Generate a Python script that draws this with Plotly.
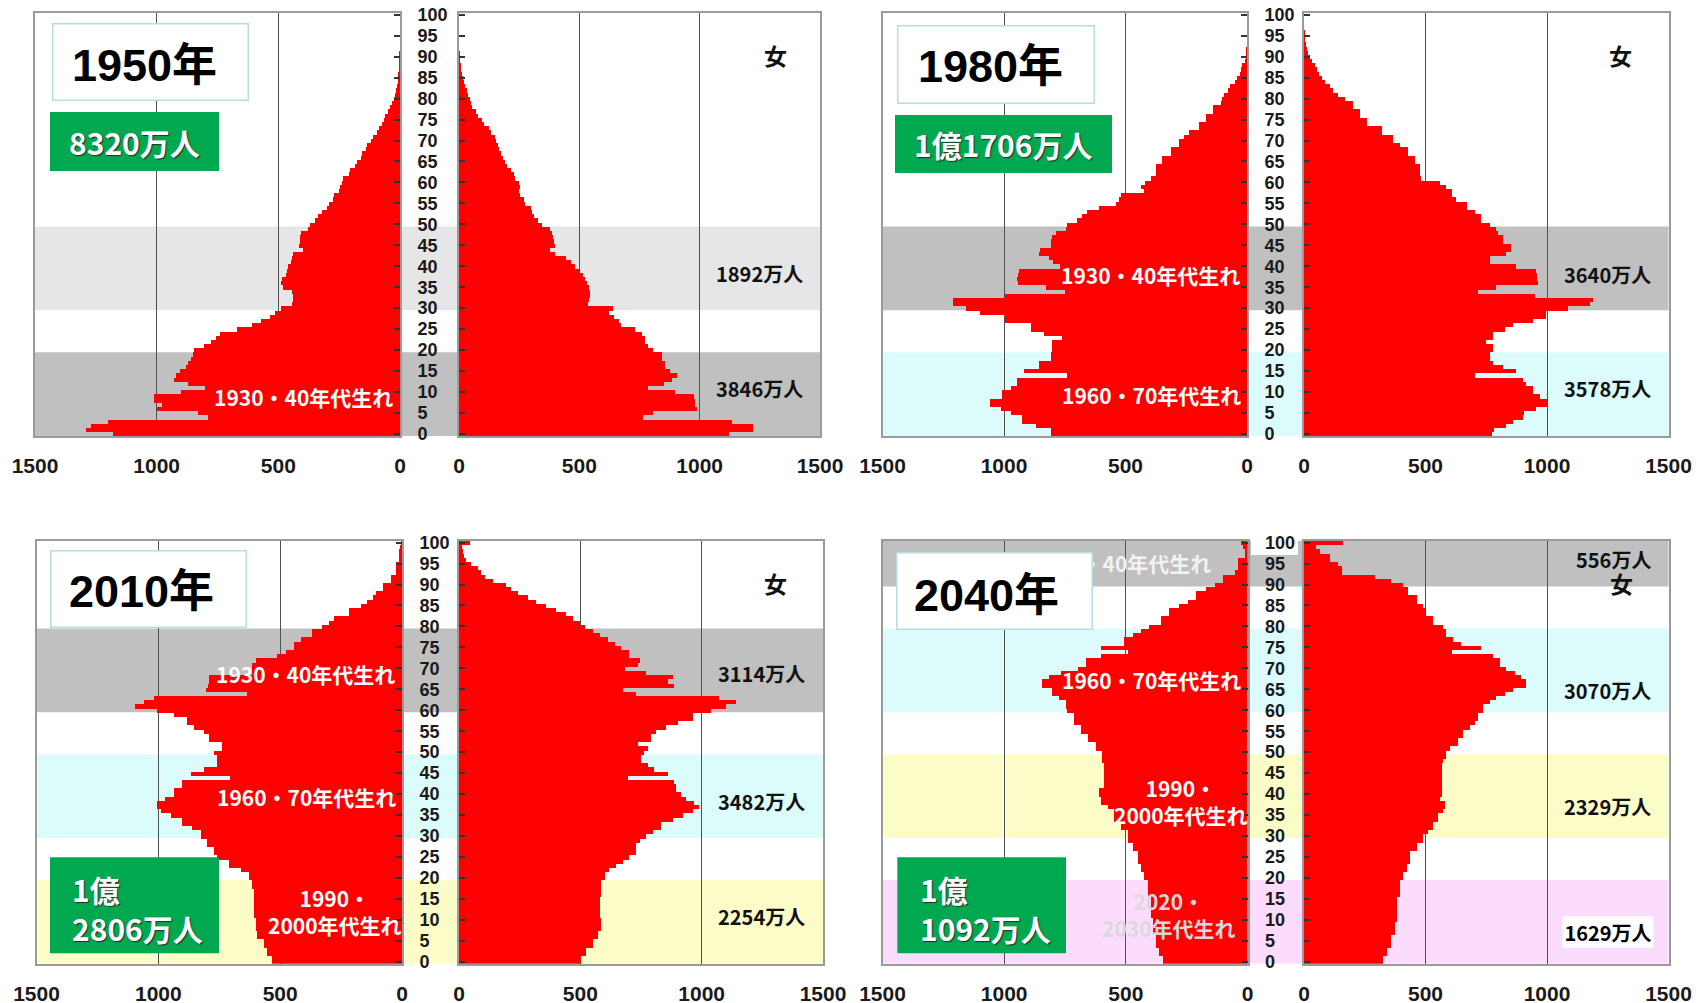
import plotly.graph_objects as go

# ---------------- data (thousand persons per single year of age) ----------------
AGES = list(range(101))

M1950 = [1180, 1290, 1270, 1200, 790, 830, 1000, 980, 1010, 1010,
         900, 800, 870, 930, 920, 905, 880, 870, 860, 850,
         845, 805, 775, 755, 740, 670, 610, 570, 535, 515,
         490, 445, 440, 440, 445, 480, 490, 485, 470, 465,
         460, 450, 445, 440, 400, 415, 410, 410, 405, 380,
         370, 350, 335, 320, 300, 290, 275, 270, 250, 245,
         240, 235, 210, 205, 185, 175, 160, 155, 140, 135,
         120, 112, 95, 88, 72, 65, 60, 48, 42, 32,
         25, 22, 16, 13, 10, 7, 5, 4, 3, 2,
         1, 1, 0, 0, 0, 0, 0, 0, 0, 0,
         0]
F1950 = [1120, 1220, 1220, 1135, 766, 808, 990, 980, 980, 976,
         898, 787, 850, 885, 906, 877, 855, 855, 842, 842,
         808, 787, 773, 773, 760, 730, 675, 665, 645, 625,
         640, 535, 540, 545, 545, 540, 530, 525, 515, 500,
         480, 465, 445, 400, 380, 400, 395, 392, 388, 378,
         345, 330, 312, 305, 300, 275, 268, 252, 250, 255,
         250, 232, 228, 218, 200, 190, 182, 176, 168, 162,
         155, 150, 132, 126, 102, 96, 78, 70, 55, 50,
         45, 38, 32, 26, 22, 18, 13, 9, 5, 3,
         1, 1, 0, 0, 0, 0, 0, 0, 0, 0,
         0]
M1980 = [810, 810, 872, 927, 927, 975, 1016, 1058, 1058, 1010,
         1010, 975, 948, 948, 742, 920, 858, 858, 810, 810,
         803, 803, 803, 762, 838, 893, 893, 996, 996, 1100,
         1160, 1210, 1210, 1000, 750, 830, 945, 950, 945, 940,
         770, 800, 817, 858, 855, 810, 810, 805, 790, 745,
         742, 700, 680, 659, 611, 543, 530, 519, 426, 440,
         420, 398, 378, 378, 378, 350, 350, 316, 316, 282,
         282, 260, 240, 199, 199, 172, 172, 144, 144, 110,
         105, 95, 80, 70, 52, 45, 32, 27, 22, 12,
         8, 5, 3, 2, 1, 0, 0, 0, 0, 0,
         0]
F1980 = [775, 780, 833, 860, 900, 905, 956, 1000, 1004, 970,
         943, 943, 915, 901, 703, 874, 819, 778, 764, 764,
         778, 778, 751, 778, 778, 826, 860, 943, 997, 997,
         1086, 1175, 1189, 950, 717, 790, 963, 960, 958, 956,
         874, 764, 764, 833, 853, 853, 819, 819, 799, 790,
         764, 730, 730, 703, 669, 669, 627, 607, 607, 586,
         560, 480, 478, 477, 477, 456, 456, 429, 429, 395,
         367, 367, 319, 319, 258, 258, 230, 230, 203, 203,
         168, 140, 120, 105, 88, 75, 62, 55, 45, 32,
         25, 15, 11, 7, 3, 2, 1, 0, 0, 0,
         0]
M2010 = [534, 534, 555, 555, 569, 569, 596, 596, 603, 603,
         603, 610, 610, 610, 610, 610, 610, 610, 617, 617,
         630, 630, 664, 712, 712, 760, 774, 774, 801, 801,
         829, 829, 863, 904, 904, 952, 993, 1007, 1007, 973,
         938, 938, 904, 904, 706, 870, 815, 760, 760, 760,
         774, 740, 740, 795, 795, 815, 856, 884, 884, 938,
         1007, 1096, 1060, 1021, 637, 808, 800, 795, 795, 617,
         617, 617, 600, 514, 480, 445, 445, 418, 370, 370,
         329, 300, 281, 219, 219, 171, 144, 120, 110, 82,
         82, 48, 48, 27, 27, 27, 14, 14, 14, 10,
         7]
F2010 = [504, 504, 524, 524, 552, 552, 572, 572, 586, 586,
         586, 579, 579, 579, 579, 579, 586, 586, 586, 586,
         600, 600, 620, 648, 675, 702, 730, 730, 730, 744,
         771, 799, 833, 833, 881, 922, 963, 991, 970, 936,
         915, 895, 895, 888, 696, 860, 805, 778, 750, 750,
         764, 778, 737, 792, 792, 812, 853, 901, 963, 963,
         1037, 1100, 1141, 1073, 730, 675, 888, 860, 881, 771,
         682, 737, 744, 702, 702, 668, 641, 613, 579, 552,
         520, 497, 470, 442, 401, 359, 318, 284, 243, 215,
         195, 140, 106, 90, 78, 51, 30, 22, 16, 12,
         44]
M2040 = [350, 350, 364, 364, 378, 378, 378, 391, 391, 391,
         391, 398, 398, 398, 398, 398, 412, 412, 412, 412,
         426, 426, 440, 440, 453, 453, 453, 474, 474, 494,
         494, 494, 522, 522, 549, 549, 549, 577, 604, 604,
         611, 611, 591, 591, 591, 591, 591, 591, 598, 598,
         598, 625, 625, 659, 659, 687, 687, 714, 714, 714,
         742, 749, 749, 776, 804, 804, 845, 845, 817, 769,
         700, 666, 666, 604, 495, 604, 508, 508, 474, 440,
         405, 357, 357, 323, 323, 282, 247, 213, 213, 172,
         137, 103, 103, 55, 41, 41, 41, 14, 14, 20,
         27]
F2040 = [326, 326, 340, 340, 360, 360, 360, 374, 374, 374,
         381, 381, 381, 381, 381, 381, 395, 395, 395, 395,
         408, 408, 422, 422, 436, 436, 436, 463, 463, 490,
         490, 511, 531, 531, 552, 552, 573, 580, 580, 559,
         566, 566, 566, 566, 566, 566, 566, 566, 573, 586,
         586, 600, 634, 634, 655, 655, 682, 703, 717, 717,
         737, 737, 764, 792, 826, 860, 915, 915, 895, 867,
         833, 806, 806, 778, 607, 730, 648, 614, 586, 586,
         573, 531, 531, 504, 504, 490, 463, 463, 429, 429,
         408, 360, 292, 155, 155, 141, 107, 107, 66, 50,
         162]

YEARS = ["1950年", "1980年", "2010年", "2040年"]
MALE = [M1950, M1980, M2010, M2040]
FEMALE = [F1950, F1980, F2010, F2040]
TOTALS = ["8320万人", "1億1706万人", "1億<br>2806万人", "1億<br>1092万人"]
X_TICKS = [0, 500, 1000, 1500]
AGE_TICKS = list(range(0, 101, 5))

# cohort band totals (female-side labels) per panel
BAND_TOTALS = [
    ["1892万人", "3846万人"],
    ["3640万人", "3578万人"],
    ["3114万人", "3482万人", "2254万人"],
    ["556万人", "3070万人", "2329万人", "1629万人"],
]

for arr in MALE + FEMALE:
    assert len(arr) == 101

# ---------------- layout geometry (screen pixels) ----------------
W, H = 1706, 1003
PAGE_OFF = 8  # default page margin in front of the figure


def fx(p):
    return (p - PAGE_OFF) / W


def fy(p):
    return 1 - (p - PAGE_OFF) / H


GEOM = [
    dict(m=(35, 400), f=(459, 820), y=(12.7, 436)),
    dict(m=(882.5, 1247), f=(1304, 1668.5), y=(12.7, 436)),
    dict(m=(36.5, 402), f=(459, 823), y=(540.5, 963.8)),
    dict(m=(882.5, 1247.5), f=(1304, 1668.5), y=(540.5, 963.8)),
]

GRAY, LGRAY, CYAN, YELLOW, PINK = "#c0c0c0", "#e6e6e6", "#dcfcfc", "#fcfcc8", "#fcdcfc"
BANDS = [
    [(29.5, 49.5, LGRAY), (-0.5, 19.5, GRAY)],
    [(29.5, 49.5, GRAY), (-0.5, 19.5, CYAN)],
    [(59.5, 79.5, GRAY), (29.5, 49.5, CYAN), (-0.5, 19.5, YELLOW)],
    [(89.5, 100.5, GRAY), (59.5, 79.5, CYAN), (29.5, 49.5, YELLOW), (-0.5, 19.5, PINK)],
]

FONT_NUM = "Liberation Sans, Arial, sans-serif"
FONT_JP = "Noto Sans CJK JP, sans-serif"
RED = "#ff0000"
FRAME = "#9a9a9a"
GRID = "#505050"

fig = go.Figure()
layout = {}
shapes = []
annotations = []

for i in range(4):
    g = GEOM[i]
    mi, fi = 2 * i + 1, 2 * i + 2
    xm, ym = f"x{mi if mi > 1 else ''}", f"y{mi if mi > 1 else ''}"
    xf, yf = f"x{fi}", f"y{fi}"
    fig.add_trace(go.Bar(x=MALE[i], y=AGES, orientation="h", xaxis=xm, yaxis=ym,
                         width=1.0, marker=dict(color=RED, line=dict(width=0)),
                         hoverinfo="skip"))
    fig.add_trace(go.Bar(x=FEMALE[i], y=AGES, orientation="h", xaxis=xf, yaxis=yf,
                         width=1.0, marker=dict(color=RED, line=dict(width=0)),
                         hoverinfo="skip"))
    ydom = [fy(g["y"][1]), fy(g["y"][0])]
    xcommon = dict(tickvals=X_TICKS, ticks="", showgrid=True, gridcolor=GRID, gridwidth=1.2,
                   zeroline=False, showline=True, mirror=True, linecolor=FRAME, linewidth=2,
                   tickfont=dict(family=FONT_NUM, size=21, color="#1a1a1a", weight="bold"),
                   ticklabelstandoff=10, ticklabeloverflow="allow",
                   fixedrange=True, automargin=False)
    ycommon = dict(range=[-0.5, 100.5], domain=ydom, tickvals=AGE_TICKS, ticks="inside",
                   ticklen=6, tickwidth=1.5, tickcolor="#333333", showgrid=False,
                   zeroline=False, showline=True, mirror=True, linecolor=FRAME, linewidth=2,
                   ticklabeloverflow="allow", fixedrange=True, automargin=False)
    layout[f"xaxis{mi if mi > 1 else ''}"] = dict(xcommon, range=[1500, 0],
                                                 domain=[fx(g["m"][0]), fx(g["m"][1])], anchor=ym)
    layout[f"xaxis{fi}"] = dict(xcommon, range=[0, 1500],
                                domain=[fx(g["f"][0]), fx(g["f"][1])], anchor=yf)
    layout[f"yaxis{mi if mi > 1 else ''}"] = dict(
        ycommon, anchor=xm, side="right", showticklabels=True, ticklabelstandoff=12,
        tickfont=dict(family=FONT_NUM, size=18, color="#1a1a1a", weight="bold"))
    layout[f"yaxis{fi}"] = dict(ycommon, anchor=xf, side="left", showticklabels=False)

    # background cohort bands spanning male panel, middle strip and female panel
    for (a0, a1, col) in BANDS[i]:
        shapes.append(dict(type="rect", xref="paper", yref=ym, x0=fx(g["m"][0]), x1=fx(g["f"][1]),
                           y0=a0, y1=a1, fillcolor=col, line=dict(width=0), layer="below"))

# white patch behind the "100" label of 2040
shapes.append(dict(type="rect", xref="paper", yref="paper", x0=fx(1251), x1=fx(1298),
                   y0=fy(555), y1=fy(526), fillcolor="white", line=dict(width=0), layer="below"))

# green total boxes
GREEN_BOX = [(50, 112, 219, 171), (895, 115, 1112, 173), (50, 857.3, 219, 953.3), (897.3, 857.3, 1066, 953.3)]
for (x0, y0, x1, y1) in GREEN_BOX:
    shapes.append(dict(type="rect", xref="paper", yref="paper", x0=fx(x0), x1=fx(x1),
                       y0=fy(y1), y1=fy(y0), fillcolor="#00a84f", line=dict(width=0), layer="above"))

# cohort texts (drawn before title boxes so the 2040 one is partly hidden)
COHORT = [
    ("1930・40年代生れ", 395, 396.7, "right", "white"),
    ("1930・40年代生れ", 1241.7, 275, "right", "white"),
    ("1960・70年代生れ", 1243, 395, "right", "white"),
    ("1930・40年代生れ", 396.7, 674, "right", "white"),
    ("1960・70年代生れ", 398, 796.7, "right", "white"),
    ("1990・<br>2000年代生れ", 335, 911, "center", "white"),
    ("1930・40年代生れ", 1213, 563, "right", "#f2f2f2"),
    ("1960・70年代生れ", 1243, 680, "right", "white"),
    ("1990・<br>2000年代生れ", 1180.5, 801, "center", "white"),
    ("2020・<br>2030年代生れ", 1169, 914, "center", "#d9d9d9"),
]
for (t, x, y, xa, col) in COHORT:
    annotations.append(dict(text=t, xref="paper", yref="paper", x=fx(x), y=fy(y), xanchor=xa,
                            yanchor="middle", showarrow=False, align="center",
                            font=dict(family=FONT_JP, size=21, color=col, weight="bold")))

# title boxes + titles
TITLE_BOX = [(52, 23, 248, 100), (898, 25, 1095, 103), (50, 550, 246, 627.3), (896.7, 552.3, 1092.7, 629.3)]
TITLE_POS = [(144, 65), (990.5, 66.7), (141, 591.7), (986.7, 595)]
for i in range(4):
    x0, y0, x1, y1 = TITLE_BOX[i]
    annotations.append(dict(text=" ", xref="paper", yref="paper", x=fx((x0 + x1) / 2), y=fy((y0 + y1) / 2),
                            xanchor="center", yanchor="middle", showarrow=False,
                            width=x1 - x0 - 2, height=y1 - y0 - 2, bgcolor="white",
                            bordercolor="#b5dde2", borderwidth=1.5, borderpad=0))
    tx, ty = TITLE_POS[i]
    annotations.append(dict(text=YEARS[i], xref="paper", yref="paper", x=fx(tx), y=fy(ty),
                            xanchor="center", yanchor="middle", showarrow=False,
                            font=dict(family="Liberation Sans, Noto Sans CJK JP, sans-serif",
                                      size=45, color="black", weight="bold")))

# totals in green boxes
TOT_POS = [(134.5, 141.5, "center"), (1003.5, 144, "center"), (70, 908.3, "left"), (918.3, 908.3, "left")]
for i in range(4):
    x, y, xa = TOT_POS[i]
    annotations.append(dict(text=TOTALS[i], xref="paper", yref="paper", x=fx(x), y=fy(y),
                            xanchor=xa, yanchor="middle", showarrow=False, align="left",
                            font=dict(family=FONT_JP, size=30, color="white", weight="bold",
                                      shadow="1px 1px 1px #2a2a2a")))

# band totals on female side
BT_X = [805, 1652.7, 806.7, 1652.7]
BT_Y = [[273, 389], [274, 389], [673.3, 801.7, 916.7], [559, 690, 806, 932.3]]
for i in range(4):
    for j, t in enumerate(BAND_TOTALS[i]):
        y = BT_Y[i][j]
        if i == 3 and j == 3:
            annotations.append(dict(text=t, xref="paper", yref="paper", x=fx(1607.5), y=fy(y),
                                    xanchor="center", yanchor="middle", showarrow=False,
                                    width=90, height=30, bgcolor="white", borderpad=0,
                                    font=dict(family=FONT_JP, size=20, color="black", weight="bold")))
        else:
            annotations.append(dict(text=t, xref="paper", yref="paper", x=fx(BT_X[i]), y=fy(y),
                                    xanchor="right", yanchor="middle", showarrow=False,
                                    font=dict(family=FONT_JP, size=20, color="#111111", weight="bold")))

# 女 labels
ONNA = [(775, 55), (1620.7, 55), (775.7, 582.7), (1621.7, 583)]
for (x, y) in ONNA:
    annotations.append(dict(text="女", xref="paper", yref="paper", x=fx(x), y=fy(y),
                            xanchor="center", yanchor="middle", showarrow=False,
                            font=dict(family=FONT_JP, size=23, color="#111111", weight="bold")))

fig.update_layout(**layout)
fig.update_layout(width=W, height=H, margin=dict(l=0, r=0, t=0, b=0, autoexpand=False), autosize=False,
                  showlegend=False, bargap=0, barmode="overlay",
                  plot_bgcolor="rgba(0,0,0,0)", paper_bgcolor="white",
                  shapes=shapes, annotations=annotations)

fig.write_html("out.html")
